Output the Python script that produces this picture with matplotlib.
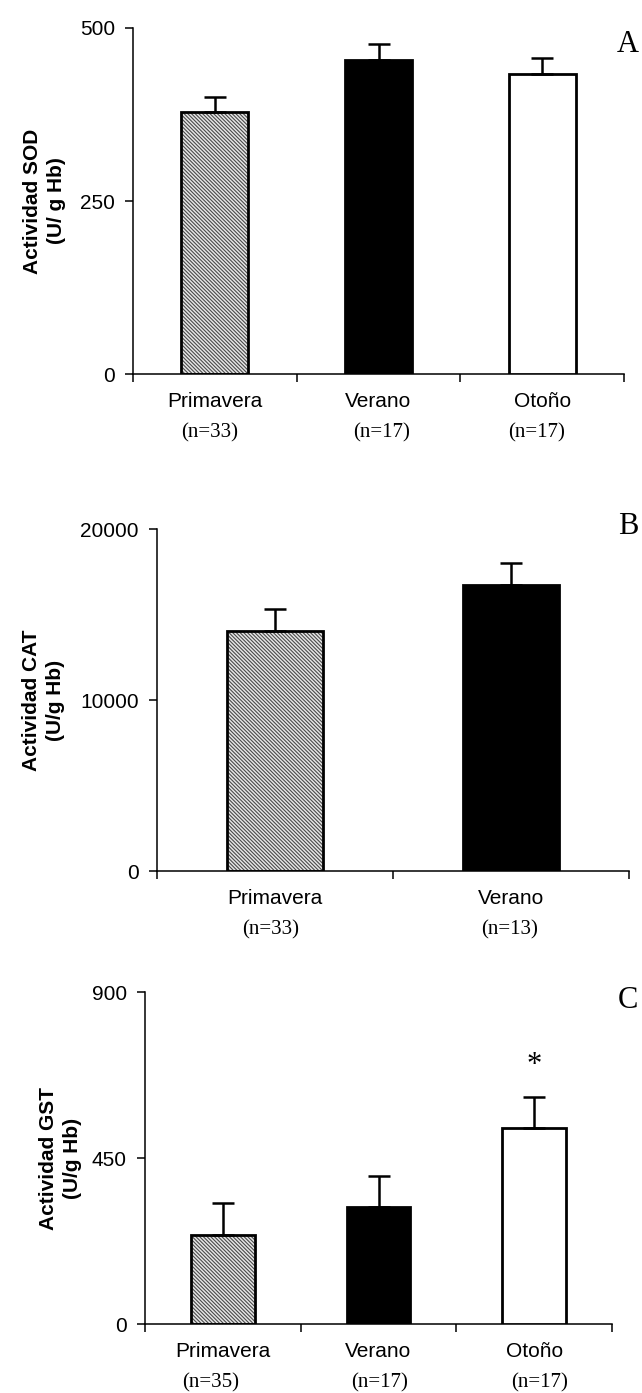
import matplotlib
matplotlib.use("Agg")
import matplotlib.pyplot as plt

plt.rcParams['font.family'] = ['Liberation Sans', 'DejaVu Sans']
plt.rcParams['hatch.linewidth'] = 0.8

# enzyme activity by season (mean and standard error)
sod_seasons = ['Primavera', 'Verano', 'Otoño']
sod_mean = [378, 454, 433]
sod_se = [23, 23, 23]
sod_n = [33, 17, 17]

cat_seasons = ['Primavera', 'Verano']
cat_mean = [14050, 16750]
cat_se = [1300, 1270]
cat_n = [33, 13]

gst_seasons = ['Primavera', 'Verano', 'Otoño']
gst_mean = [241, 317, 531]
gst_se = [86, 85, 85]
gst_n = [35, 17, 17]

season_style = {'Primavera': 'hatch', 'Verano': 'black', 'Otoño': 'white'}

fig = plt.figure(figsize=(6.42, 13.93), dpi=100)


def panel(rect, seasons, means, ses, ns, ymax, yticks, ylabel, label_x,
          letter, letter_xy, n_dx, star=None):
    ax = fig.add_axes(rect)
    k = len(seasons)
    xs = [i + 0.5 for i in range(k)]
    for x, s, m in zip(xs, seasons, means):
        st = season_style[s]
        if st == 'hatch':
            # fine grey hatch underneath, black outline on top
            ax.bar(x, m, width=0.41, color='#e6e6e6', edgecolor='#4a4a4a',
                   hatch='\\' * 9, linewidth=0, zorder=2)
            ax.bar(x, m, width=0.41, fill=False, edgecolor='black',
                   linewidth=2.0, zorder=3)
        else:
            ax.bar(x, m, width=0.41, color=st, edgecolor='black',
                   linewidth=2.0, zorder=3)
    ax.errorbar(xs, means, yerr=[[0] * k, ses], fmt='none', ecolor='black',
                elinewidth=1.8, capsize=8, capthick=1.8, zorder=4)

    ax.set_xlim(0, k)
    ax.set_ylim(0, ymax)
    ax.set_yticks(yticks)
    ax.set_xticks(range(k + 1))
    ax.set_xticklabels([])
    ax.set_xticks(xs, minor=True)
    ax.set_xticklabels(seasons, minor=True)
    ax.tick_params(axis='x', which='minor', length=0, pad=13, labelsize=15)
    ax.tick_params(axis='x', which='major', length=6, width=1.1, direction='out')
    ax.tick_params(axis='y', length=6, width=1.1, pad=7, labelsize=15)
    for side in ('top', 'right'):
        ax.spines[side].set_visible(False)
    for side in ('left', 'bottom'):
        ax.spines[side].set_linewidth(1.1)

    ax.set_ylabel(ylabel, fontsize=15, fontweight='bold', linespacing=1.35)
    ax.yaxis.set_label_coords(label_x, 0.5)

    for x, n, dx in zip(xs, ns, n_dx):
        ax.annotate('(n=%d)' % n, xy=(x, 0), xycoords=ax.get_xaxis_transform(),
                    xytext=(dx, -42.5), textcoords='offset points',
                    ha='center', va='center', fontsize=15,
                    family='Liberation Serif')

    if star is not None:
        ax.annotate('*', xy=(xs[star], means[star] + ses[star]), xytext=(0, 12),
                    textcoords='offset points', ha='center', va='bottom',
                    fontsize=22, family='Liberation Serif')

    fig.text(letter_xy[0], letter_xy[1], letter, fontsize=22,
             family='Liberation Serif', ha='center', va='center')
    return ax


panel([0.2072, 0.7315, 0.7648, 0.2484], sod_seasons, sod_mean, sod_se, sod_n,
      500, [0, 250, 500], 'Actividad SOD\n(U/ g Hb)', -0.137,
      'A', (628 / 642, 1 - 45 / 1393), [-4, 2, -4])

panel([0.2445, 0.3747, 0.7352, 0.2455], cat_seasons, cat_mean, cat_se, cat_n,
      20000, [0, 10000, 20000], 'Actividad CAT\n(U/g Hb)', -0.195,
      'B', (628 / 642, 1 - 526 / 1393), [-3, -1])

panel([0.2259, 0.0495, 0.7274, 0.2383], gst_seasons, gst_mean, gst_se, gst_n,
      900, [0, 450, 900], 'Actividad GST\n(U/g Hb)', -0.135,
      'C', (628 / 642, 1 - 1001 / 1393), [-9, 1, 4], star=2)

fig.savefig('out.png', dpi=100)
